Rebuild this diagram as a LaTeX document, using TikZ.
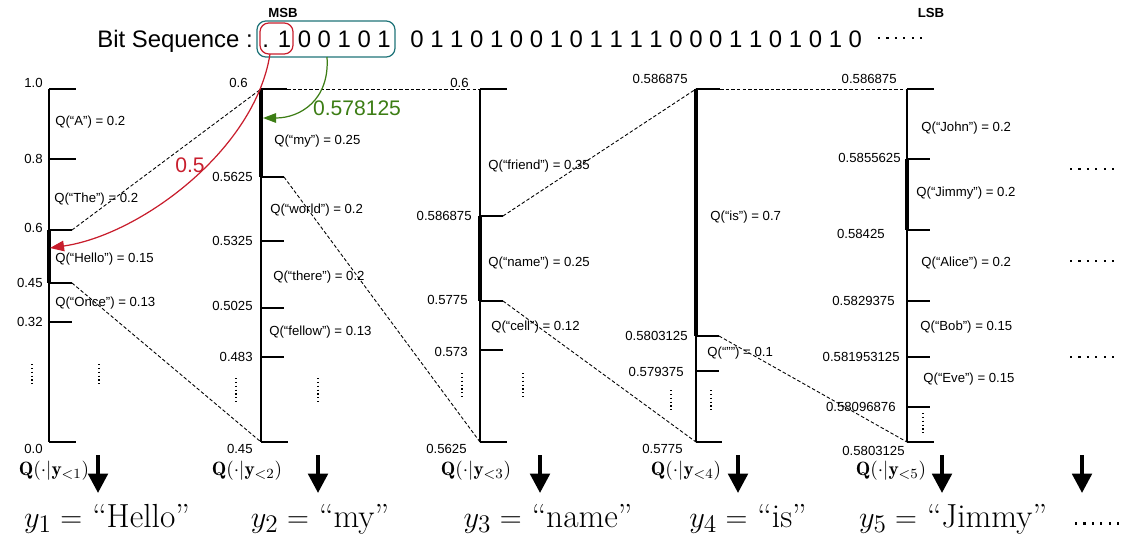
\documentclass[tikz,border=0pt]{standalone}
\usepackage{amsmath}
\usepackage{fontspec}
\setsansfont{Liberation Sans}
\usetikzlibrary{arrows.meta,fit}

\definecolor{bitred}{RGB}{200,30,45}
\definecolor{bitgreen}{RGB}{60,125,20}
\definecolor{bitteal}{RGB}{30,115,120}

\begin{document}
\begin{tikzpicture}[x=0.02cm, y=-0.02cm,
  lbl/.style={font=\sffamily\fontsize{7.5}{9}\selectfont, inner sep=0pt},
  val/.style={lbl, anchor=east},
  qlbl/.style={lbl, anchor=west},
  tag/.style={font=\sffamily\bfseries\fontsize{7.5}{9}\selectfont, inner sep=0pt},
  bits/.style={font=\sffamily\fontsize{13.6}{16}\selectfont, inner sep=0pt, anchor=base west},
  num/.style={font=\sffamily\fontsize{12}{14}\selectfont, inner sep=0pt},
  dist/.style={font=\fontsize{11}{13}\selectfont, inner sep=0pt},
  word/.style={font=\fontsize{19}{22}\selectfont, inner sep=0pt, anchor=base},
  axis/.style={line width=0.8pt},
  sel/.style={line width=2.4pt},
  tk/.style={line width=0.7pt},
  dsh/.style={line width=0.5pt, dash pattern=on 2pt off 1.2pt},
  vdots/.style={line width=0.6pt, dash pattern=on 0.6pt off 1.6pt},
  hdots/.style={line width=1.7pt, dash pattern=on 1.2pt off 3.6pt},
  down/.style={-{Triangle[length=11pt,width=11pt]}, line width=2.3pt},
  redarr/.style={-{Triangle[length=8pt,width=6pt]}, bitred, line width=0.7pt},
  greenarr/.style={-{Triangle[length=7.5pt,width=5.5pt]}, bitgreen, line width=0.7pt},
]
\useasboundingbox (0,0) rectangle (1121,537);

% bit sequence
\node[bits] (seqlbl) at (97,48) {Bit Sequence :};
\node[bits] (headbits) at (262,48) {. 1 0 0 1 0 1};
\node[bits] (tailbits) at (410,48) {0 1 1 0 1 0 0 1 0 1 1 1 1 0 0 0 1 1 0 1 0 1 0};
\coordinate (seqdots) at (878,38);
\draw[hdots] (seqdots) -- ++(44,0);
\node[draw=bitteal, line width=0.7pt, rounded corners=5pt, inner sep=0pt,
      fit={(257,21) (395,57)}] (window) {};
\node[draw=bitred, line width=0.7pt, rounded corners=5pt, inner sep=0pt,
      fit={(260,23) (293,54)}] (msbbox) {};
\node[tag] (msb) at (283,13) {MSB};
\node[tag] (lsb) at (931,13) {LSB};

% column 1
\coordinate (t1) at (49,89);
\coordinate (b1) at (49,442);
\draw[axis] (t1) -- (b1);
\draw[tk] (t1) -- ++(27,0);
\draw[tk] (49,159) -- ++(27,0);
\draw[tk] (49,230) -- ++(23,0) coordinate (hi1);
\draw[tk] (49,283) -- ++(23,0) coordinate (lo1);
\draw[tk] (49,322) -- ++(23,0);
\draw[tk] (b1) -- ++(27,0);
\draw[sel] (49,230) -- (49,283);
\node[val] (v11) at (43,83) {1.0};
\node[val] (v12) at (43,159) {0.8};
\node[val] (v13) at (43,228) {0.6};
\node[val] (v14) at (43,283) {0.45};
\node[val] (v15) at (43,322) {0.32};
\node[val] (v16) at (43,449) {0.0};
\node[qlbl] (q11) at (55,122) {Q(“A”) = 0.2};
\node[qlbl] (q12) at (54,199) {Q(“The”) = 0.2};
\node[qlbl] (q13) at (55,259) {Q(“Hello”) = 0.15};
\node[qlbl] (q14) at (55,303) {Q(“Once”) = 0.13};
\draw[vdots] (32,364) -- (32,387);
\draw[vdots] (99,364) -- (99,387);

% column 2
\coordinate (t2) at (261,89);
\coordinate (b2) at (261,442);
\draw[axis] (t2) -- (b2);
\draw[tk] (t2) -- ++(26,0) coordinate (top2);
\draw[tk] (261,177) -- ++(23,0) coordinate (lo2);
\draw[tk] (261,241) -- ++(23,0);
\draw[tk] (261,308) -- ++(23,0);
\draw[tk] (261,357) -- ++(23,0);
\draw[tk] (b2) -- ++(27,0);
\draw[sel] (261,89) -- (261,177);
\node[val] (v21) at (248,83) {0.6};
\node[val] (v22) at (253,177) {0.5625};
\node[val] (v23) at (253,241) {0.5325};
\node[val] (v24) at (253,306) {0.5025};
\node[val] (v25) at (253,357) {0.483};
\node[val] (v26) at (253,449) {0.45};
\node[qlbl] (q21) at (274,141) {Q(“my”) = 0.25};
\node[qlbl] (q22) at (270,210) {Q(“world”) = 0.2};
\node[qlbl] (q23) at (273,277) {Q(“there”) = 0.2};
\node[qlbl] (q24) at (269,332) {Q(“fellow”) = 0.13};
\draw[vdots] (236,378) -- (236,404);
\draw[vdots] (318,378) -- (318,404);

% column 3
\coordinate (t3) at (480,89);
\coordinate (b3) at (480,442);
\draw[axis] (t3) -- (b3);
\draw[tk] (t3) -- ++(27,0);
\draw[tk] (480,216) -- ++(23,0) coordinate (hi3);
\draw[tk] (480,301) -- ++(23,0) coordinate (lo3);
\draw[tk] (480,350) -- ++(23,0);
\draw[tk] (b3) -- ++(27,0);
\draw[sel] (480,216) -- (480,301);
\node[val] (v31) at (469,83) {0.6};
\node[val] (v32) at (472,216) {0.586875};
\node[val] (v33) at (468,300) {0.5775};
\node[val] (v34) at (468,352) {0.573};
\node[val] (v35) at (467,449) {0.5625};
\node[qlbl] (q31) at (488,166) {Q(“friend”) = 0.35};
\node[qlbl] (q32) at (488,263) {Q(“name”) = 0.25};
\node[qlbl] (q33) at (491,327) {Q(“cell”) = 0.12};
\draw[vdots] (462,373) -- (462,397);
\draw[vdots] (523,373) -- (523,397);

% column 4
\coordinate (t4) at (696,89);
\coordinate (b4) at (696,442);
\draw[axis] (t4) -- (b4);
\draw[tk] (t4) -- ++(24,0) coordinate (top4);
\draw[tk] (696,336) -- ++(23,0) coordinate (lo4);
\draw[tk] (696,371) -- ++(23,0);
\draw[tk] (b4) -- ++(26,0);
\draw[sel] (696,89) -- (696,336);
\node[val] (v41) at (688,79) {0.586875};
\node[val] (v42) at (688,336) {0.5803125};
\node[val] (v43) at (684,372) {0.579375};
\node[val] (v44) at (683,449) {0.5775};
\node[qlbl] (q41) at (710,217) {Q(“is”) = 0.7};
\node[qlbl] (q42) at (707,353) {Q(“"”) = 0.1};
\draw[vdots] (671,390) -- (671,413);
\draw[vdots] (711,390) -- (711,413);

% column 5
\coordinate (t5) at (907,89);
\coordinate (b5) at (907,442);
\draw[axis] (t5) -- (b5);
\draw[tk] (t5) -- ++(27,0);
\draw[tk] (907,159) -- ++(23,0);
\draw[tk] (907,230) -- ++(23,0);
\draw[tk] (907,301) -- ++(23,0);
\draw[tk] (907,357) -- ++(23,0);
\draw[tk] (907,407) -- ++(23,0);
\draw[tk] (b5) -- ++(27,0);
\draw[sel] (907,159) -- (907,230);
\node[val] (v51) at (897,79) {0.586875};
\node[val] (v52) at (901,158) {0.5855625};
\node[val] (v53) at (885,234) {0.58425};
\node[val] (v54) at (895,301) {0.5829375};
\node[val] (v55) at (900,357) {0.581953125};
\node[val] (v56) at (896,407) {0.58096876};
\node[val] (v57) at (905,451) {0.5803125};
\node[qlbl] (q51) at (921,128) {Q(“John”) = 0.2};
\node[qlbl] (q52) at (916,193) {Q(“Jimmy”) = 0.2};
\node[qlbl] (q53) at (921,263) {Q(“Alice”) = 0.2};
\node[qlbl] (q54) at (920,327) {Q(“Bob”) = 0.15};
\node[qlbl] (q55) at (923,379) {Q(“Eve”) = 0.15};
\draw[vdots] (923,413) -- (923,436);

% column 6 (continuation)
\draw[hdots] (1070,169) -- ++(44,0);
\draw[hdots] (1070,261) -- ++(44,0);
\draw[hdots] (1070,357) -- ++(44,0);

% zoom lines
\draw[dsh] (hi1) -- (t2);
\draw[dsh] (lo1) -- (b2);
\draw[dsh] (top2) -- (t3);
\draw[dsh] (lo2) -- (b3);
\draw[dsh] (hi3) -- (t4);
\draw[dsh] (lo3) -- (b4);
\draw[dsh] (top4) -- (t5);
\draw[dsh] (lo4) -- (b5);

% decoding arrows
\coordinate (redstart) at (270,54);
\coordinate (hello) at (50,248);
\draw[redarr] (redstart) .. controls (255,150) and (140,235) .. (hello);
\node[num, text=bitred] (half) at (190,165) {0.5};
\coordinate (greenstart) at (327,57);
\coordinate (my) at (263,118);
\draw[greenarr] (greenstart) .. controls (330,100) and (300,118) .. (my);
\node[num, text=bitgreen] (frac) at (357,108) {0.578125};

% distributions and outputs
\node[dist] (d1) at (54,471) {$\mathbf{Q}(\cdot|\mathbf{y}_{<1})$};
\node[dist] (d2) at (247,471) {$\mathbf{Q}(\cdot|\mathbf{y}_{<2})$};
\node[dist] (d3) at (476,471) {$\mathbf{Q}(\cdot|\mathbf{y}_{<3})$};
\node[dist] (d4) at (686,471) {$\mathbf{Q}(\cdot|\mathbf{y}_{<4})$};
\node[dist] (d5) at (891,471) {$\mathbf{Q}(\cdot|\mathbf{y}_{<5})$};
\coordinate (s1) at (98,455);   \coordinate (e1) at (98,493);
\coordinate (s2) at (318,455);  \coordinate (e2) at (318,493);
\coordinate (s3) at (540,455);  \coordinate (e3) at (540,493);
\coordinate (s4) at (738,455);  \coordinate (e4) at (738,493);
\coordinate (s5) at (942,455);  \coordinate (e5) at (942,493);
\coordinate (s6) at (1082,455); \coordinate (e6) at (1082,493);
\draw[down] (s1) -- (e1);
\draw[down] (s2) -- (e2);
\draw[down] (s3) -- (e3);
\draw[down] (s4) -- (e4);
\draw[down] (s5) -- (e5);
\draw[down] (s6) -- (e6);
\node[word] (y1) at (107,527) {$y_1 =$ ``Hello''};
\node[word] (y2) at (320,527) {$y_2 =$ ``my''};
\node[word] (y3) at (548,527) {$y_3 =$ ``name''};
\node[word] (y4) at (748,527) {$y_4 =$ ``is''};
\node[word] (y5) at (953,527) {$y_5 =$ ``Jimmy''};
\draw[hdots] (1075,523) -- ++(44,0);
\end{tikzpicture}
\end{document}
